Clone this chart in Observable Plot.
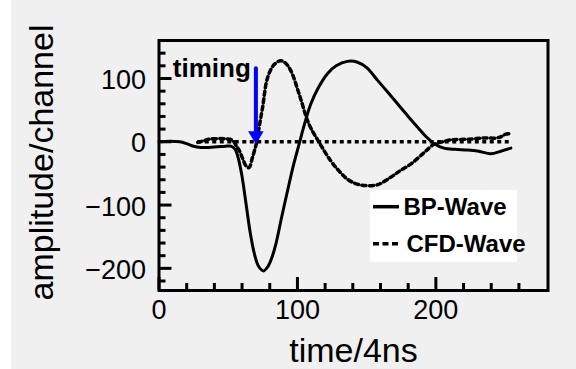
<!DOCTYPE html>
<html><head><meta charset="utf-8">
<script src="https://cdn.jsdelivr.net/npm/d3@7"></script>
<script src="https://cdn.jsdelivr.net/npm/@observablehq/plot@0.6"></script>
<style>
html,body{margin:0;padding:0;background:#fff;}
#wrap{position:relative;width:576px;height:369px;background:linear-gradient(to right,#fff 0,#fff 11px,#f0f0f0 11px);font-family:"Liberation Sans",Arial,sans-serif;}
#wrap svg{display:block;}
#legend{position:absolute;left:370px;top:189.5px;width:147px;height:72px;background:#fff;}
.row{position:absolute;left:3px;height:24px;white-space:nowrap;}
.row svg{position:absolute;left:0;top:0;}
.row span{position:absolute;left:31px;top:0;font-weight:bold;font-size:24px;line-height:24px;color:#000;}
</style>
</head><body>
<div id="wrap"></div>
<script>
// BP-Wave (solid): time (units of 4 ns) and amplitude (channel)
const bpTime = [0,8,15,20,25,30,36,42,48,52,55,57.5,60,63,66,69,72,75.5,79,82,84.5,88.5,92.9,97,101.3,105,109.7,115,121.8,128,136,143,150,157.9,165,172.3,180,186.8,193,198.8,205.8,214,222.9,231,239.7,246.9,254.2];
const bpAmp  = [0,1,0,-3,-7,-9,-9,-8,-7,-7,-12,-28,-55,-100,-145,-178,-197,-204,-196,-180,-161,-120,-77,-38,-3,27,60,85,108,120,127,126,117,97,79,60,40,23,8,-3,-10,-12,-13,-15,-19,-15,-10];
// CFD-Wave (dotted)
const cfdTime = [28,33,36,43,49,53,55.5,58,60.5,62.8,65,67.5,70.5,72.5,74.8,78.4,83.2,88,91.5,95.3,101.3,108.3,115.7,124,130,136,142,148,157.8,167.4,174,182,191.5,198.7,205,210.8,222.8,234.8,244,248,250.5,254];
const cfdAmp  = [-1,2,4,5,4.5,2.5,-5,-14,-27,-38,-41,-25,-1,25,54,101,122,128,124,112,75,28,-1,-30,-46,-59,-66,-69,-68,-56,-46,-35,-17,-4,0,3,4,6,6,9,12,13];
// dotted zero (threshold) line
const zeroLine = [{x1: 28, x2: 254, y: 0}];
// timing annotation
const timingMark = [{t: 70, top: 115, tip: -4}];
const timingLabel = [{t: 10, v: 115, text: "timing"}];
// ticks
const xMajor = [0, 100, 200];
const xMinor = [20,40,60,80,120,140,160,180,220,240,260];
const yMajor = [-200, -100, 0, 100];
const yMinor = [-220,-180,-160,-140,-120,-80,-60,-40,-20,20,40,60,80,120,140];
const xTitle = ["time/4ns"];
const yTitle = ["amplitude/channel"];
const seriesNames = ["BP-Wave", "CFD-Wave"];

const bp = bpTime.map((t, i) => ({t, v: bpAmp[i]}));
const cfd = cfdTime.map((t, i) => ({t, v: cfdAmp[i]}));

const shaftShape = {draw(ctx, l) { ctx.moveTo(0, -11); ctx.lineTo(0, -l); }};
const headShape = {draw(ctx, l) { ctx.moveTo(0, 0); ctx.lineTo(-7.8, -l); ctx.lineTo(7.8, -l); ctx.closePath(); }};

const font = "Liberation Sans, Arial, sans-serif";
const chart = Plot.plot({
  width: 576, height: 369,
  marginLeft: 158.5, marginRight: 28.5, marginTop: 40, marginBottom: 79,
  style: {background: "transparent", fontFamily: font, color: "#000", overflow: "visible"},
  x: {domain: [0, 281]},
  y: {domain: [-235, 160]},
  marks: [
    Plot.ruleY(zeroLine, {x1: "x1", x2: "x2", y: "y", stroke: "#000", strokeWidth: 3.5, strokeDasharray: "4,3.5"}),
    Plot.line(cfd, {x: "t", y: "v", stroke: "#000", strokeWidth: 3.5, strokeDasharray: "4,3.5", curve: "catmull-rom"}),
    Plot.line(bp, {x: "t", y: "v", stroke: "#000", strokeWidth: 3, curve: "catmull-rom"}),
    Plot.frame({stroke: "#000", strokeWidth: 3}),
    Plot.axisX({ticks: xMajor, tickSize: -13, strokeWidth: 3, fill: "none", label: null}),
    Plot.axisX({ticks: xMinor, tickSize: -7, strokeWidth: 3, fill: "none", label: null}),
    Plot.axisX({ticks: xMajor, tickSize: 0, tickPadding: 9, fontSize: 27, label: null, fill: "#000"}),
    Plot.axisY({ticks: yMajor, tickSize: -13, strokeWidth: 3, fill: "none", label: null}),
    Plot.axisY({ticks: yMinor, tickSize: -7, strokeWidth: 3, fill: "none", label: null}),
    Plot.axisY({ticks: yMajor, tickSize: 0, tickPadding: 13, dy: 2, fontSize: 27, label: null, fill: "#000"}),
    Plot.text(xTitle, {text: d => d, frameAnchor: "bottom", textAnchor: "middle", lineAnchor: "middle", dy: 61, fontSize: 34, fill: "#000"}),
    Plot.text(yTitle, {text: d => d, frameAnchor: "left", textAnchor: "middle", lineAnchor: "middle", dx: -116.5, dy: -3, rotate: -90, fontSize: 34, fill: "#000"}),
    Plot.vector(timingMark, {x: "t", y: "tip", length: 76, anchor: "start", shape: shaftShape, stroke: "#0000ff", strokeWidth: 4}),
    Plot.vector(timingMark, {x: "t", y: "tip", length: 13, anchor: "start", shape: headShape, stroke: "none", fill: "#0000ff"}),
    Plot.text(timingLabel, {x: "t", y: "v", text: "text", textAnchor: "start", fontSize: 26, fontWeight: "bold", fill: "#000"})
  ]
});
const wrap = document.getElementById("wrap");
wrap.appendChild(chart);

// legend
const legend = document.createElement("div");
legend.id = "legend";
const dashes = [null, "6,3.5"];
const tops = [5.8, 42];
seriesNames.forEach((name, i) => {
  const row = document.createElement("div");
  row.className = "row";
  row.style.top = tops[i] + "px";
  row.innerHTML = `<svg width="28" height="24"><line x1="0" x2="26" y1="11.7" y2="11.7" stroke="#000" stroke-width="3.5" ${dashes[i] ? `stroke-dasharray="${dashes[i]}"` : ""}/></svg><span style="left:${i ? 33.5 : 30.5}px">${name}</span>`;
  legend.appendChild(row);
});
wrap.appendChild(legend);
</script>
</body></html>
